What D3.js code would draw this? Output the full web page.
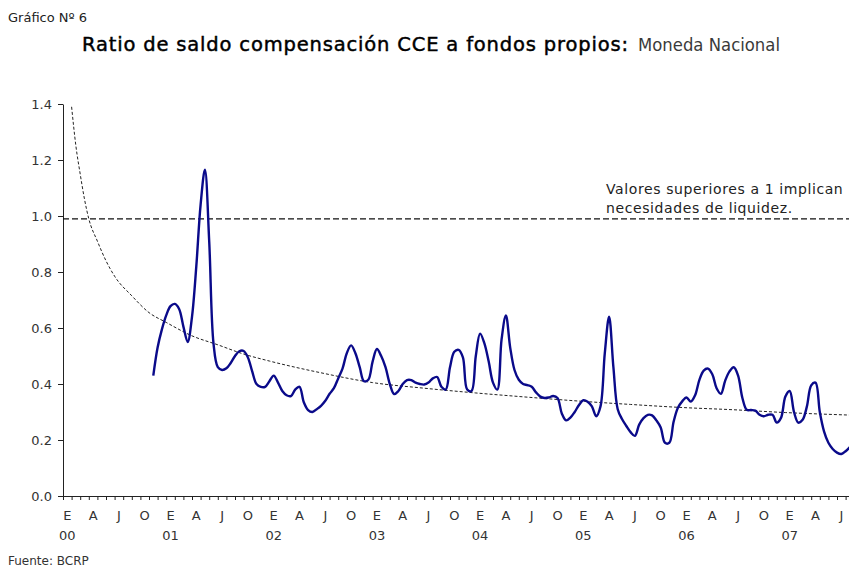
<!DOCTYPE html>
<html>
<head>
<meta charset="utf-8">
<script src="https://cdn.jsdelivr.net/npm/d3@7"></script>
<style>
  html, body { margin: 0; padding: 0; background: #fff; }
  svg { display: block; font-family: "DejaVu Sans", Verdana, sans-serif; }
</style>
</head>
<body>
<svg id="chart" width="849" height="568"></svg>
<script>
// Ratio quincenal de saldo de compensación CCE a fondos propios (moneda nacional)
// Primera observación: 2da quincena de noviembre 2000 (mes 10.5 contando desde ene-2000)
const inicioSerie = 10.5;
const pasoSerie = 0.5;
const ratioCCE = [
  0.43, 0.53, 0.595, 0.645, 0.678, 0.686, 0.668, 0.605, 0.55, 0.64,
  0.82, 1.04, 1.165, 0.91, 0.545, 0.46, 0.45, 0.456, 0.475, 0.50,
  0.517, 0.518, 0.495, 0.445, 0.40, 0.39, 0.39, 0.41, 0.43, 0.405,
  0.375, 0.36, 0.357, 0.38, 0.39, 0.335, 0.307, 0.30, 0.31, 0.322,
  0.34, 0.365, 0.385, 0.42, 0.455, 0.51, 0.538, 0.51, 0.46, 0.41,
  0.415, 0.48, 0.525, 0.50, 0.46, 0.40, 0.364, 0.375, 0.40, 0.414,
  0.414, 0.405, 0.40, 0.398, 0.405, 0.42, 0.425, 0.39, 0.38, 0.46,
  0.515, 0.522, 0.495, 0.38, 0.375, 0.50, 0.58, 0.545, 0.48, 0.405,
  0.38, 0.56, 0.645, 0.53, 0.45, 0.415, 0.40, 0.396, 0.39, 0.37,
  0.355, 0.35, 0.352, 0.357, 0.35, 0.295, 0.27, 0.28, 0.30, 0.325,
  0.342, 0.337, 0.32, 0.285, 0.32, 0.51, 0.64, 0.46, 0.31, 0.275,
  0.25, 0.228, 0.215, 0.255, 0.278, 0.29, 0.288, 0.27, 0.245, 0.19,
  0.19, 0.265, 0.315, 0.338, 0.352, 0.337, 0.36, 0.415, 0.448, 0.455,
  0.435, 0.385, 0.365, 0.412, 0.445, 0.46, 0.43, 0.35, 0.308, 0.307,
  0.305, 0.29, 0.285, 0.29, 0.29, 0.262, 0.28, 0.355, 0.375, 0.30,
  0.262, 0.272, 0.32, 0.395, 0.405, 0.30, 0.23, 0.19, 0.168, 0.155,
  0.15, 0.16, 0.175
];

// Tendencia (curva decreciente punteada)
const tendenciaMes = [1, 1.5, 2, 2.5, 3, 4, 5, 6, 8, 10, 12, 15, 18, 21, 24, 30, 36, 42, 48, 54, 60, 66, 72, 78, 84, 91.5];
const tendenciaValor = [1.39, 1.25, 1.15, 1.06, 0.99, 0.91, 0.84, 0.785, 0.715, 0.655, 0.62, 0.572, 0.54, 0.507, 0.482, 0.44, 0.405, 0.385, 0.368, 0.353, 0.339, 0.327, 0.316, 0.308, 0.298, 0.289];

// Línea de referencia
const umbral = 0.99;

// Ejes
const yTicks = [0, 0.2, 0.4, 0.6, 0.8, 1.0, 1.2, 1.4];
const mesesEtiqueta = ["E", "A", "J", "O"];
const anios = ["00", "01", "02", "03", "04", "05", "06", "07"];
const totalMeses = 91.5;

const svg = d3.select("#chart");

const x = d3.scaleLinear().domain([0, totalMeses]).range([63, 63 + totalMeses * 8.6]);
const y = d3.scaleLinear().domain([0, 1.4]).range([496, 104]);

// Títulos
svg.append("text").attr("x", 8).attr("y", 22)
  .attr("font-size", 13).attr("fill", "#222").text("Gráfico Nº 6");

svg.append("text").attr("x", 82).attr("y", 51).attr("font-size", 19.5)
  .attr("fill", "#000").attr("stroke", "#000").attr("stroke-width", 0.45)
  .attr("textLength", 546).attr("lengthAdjust", "spacing")
  .text("Ratio de saldo compensación CCE a fondos propios:");
svg.append("text").attr("x", 638).attr("y", 51).attr("font-size", 18.5).attr("fill", "#3a3a3a")
  .attr("textLength", 142).attr("lengthAdjust", "spacingAndGlyphs").text("Moneda Nacional");

// Eje Y
const yAxis = svg.append("g").attr("transform", `translate(${x(0)},0)`)
  .call(d3.axisLeft(y).tickValues(yTicks).tickFormat(d3.format(".1f")).tickSize(5).tickSizeOuter(0).tickPadding(6));
yAxis.selectAll("text").attr("font-size", 13).attr("fill", "#333").attr("font-family", "DejaVu Sans");
yAxis.selectAll("line, path").attr("stroke", "#222");

// Eje X (marcas mensuales)
const xAxis = svg.append("g").attr("transform", `translate(0,${y(0)})`)
  .call(d3.axisBottom(x).tickValues(d3.range(0, 92)).tickFormat("").tickSize(4).tickSizeOuter(0));
xAxis.selectAll("line, path").attr("stroke", "#222");

const etiquetasMes = d3.range(0, 91, 3).map(m => ({ m, t: mesesEtiqueta[(m / 3) % 4] }));
svg.append("g").selectAll("text").data(etiquetasMes).join("text")
  .attr("x", d => x(d.m + 0.5)).attr("y", 520)
  .attr("text-anchor", "middle").attr("font-size", 13).attr("fill", "#333")
  .text(d => d.t);
svg.append("g").selectAll("text").data(anios).join("text")
  .attr("x", (d, i) => x(i * 12 + 0.5)).attr("y", 540)
  .attr("text-anchor", "middle").attr("font-size", 13).attr("fill", "#333")
  .text(d => d);

// Fuente
svg.append("text").attr("x", 8).attr("y", 565).attr("font-size", 12).attr("fill", "#333").text("Fuente: BCRP");

// Línea de referencia
svg.append("line")
  .attr("x1", x(0)).attr("x2", x(totalMeses))
  .attr("y1", y(umbral)).attr("y2", y(umbral))
  .attr("stroke", "#111").attr("stroke-width", 1.3).attr("stroke-dasharray", "6,3");

svg.append("text").attr("x", 606).attr("y", 194).attr("font-size", 14).attr("letter-spacing", 0.6).attr("fill", "#222")
  .text("Valores superiores a 1 implican");
svg.append("text").attr("x", 606).attr("y", 213).attr("font-size", 14).attr("letter-spacing", 0.6).attr("fill", "#222")
  .text("necesidades de liquidez.");

// Tendencia
const tendencia = tendenciaMes.map((m, i) => [m, tendenciaValor[i]]);
svg.append("path").datum(tendencia)
  .attr("fill", "none").attr("stroke", "#222").attr("stroke-width", 1).attr("stroke-dasharray", "3,2")
  .attr("d", d3.line().x(d => x(d[0])).y(d => y(d[1])).curve(d3.curveMonotoneX));

// Serie
const serie = ratioCCE.map((v, i) => [inicioSerie + i * pasoSerie, v]);
svg.append("path").datum(serie)
  .attr("fill", "none").attr("stroke", "#0a0a8a").attr("stroke-width", 2.4)
  .attr("stroke-linejoin", "round")
  .attr("d", d3.line().x(d => x(d[0])).y(d => y(d[1])).curve(d3.curveCatmullRom.alpha(0.5)));
</script>
</body>
</html>
